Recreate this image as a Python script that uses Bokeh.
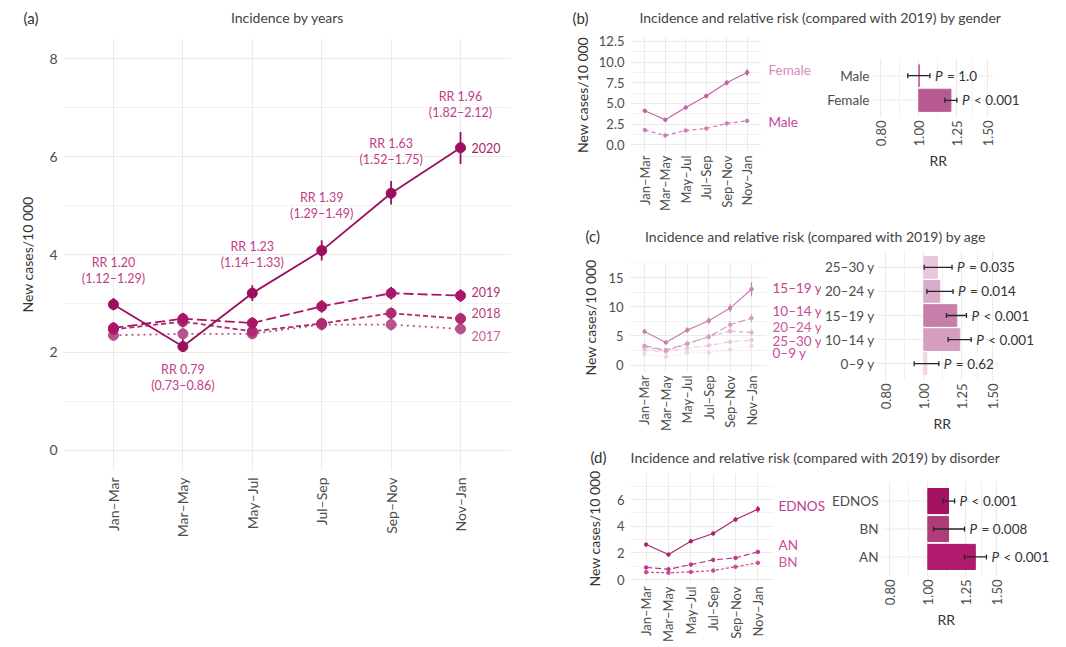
import math
from bokeh.plotting import figure
from bokeh.models import (ColumnDataSource, FactorRange, Range1d, FixedTicker,
                          PrintfTickFormatter, Title)
from bokeh.layouts import row, column
from bokeh.embed import file_html
from bokeh.resources import INLINE
from bokeh.core.properties import value

FONT = "Lato"
F = value(FONT)
GRID = "#ebebeb"
TICK_C = "#4d4d4d"
AX_C = "#333333"

# ---------------- data ----------------
periods = ["Jan–Mar", "Mar–May", "May–Jul", "Jul–Sep", "Sep–Nov", "Nov–Jan"]

# panel (a): incidence by years
years = ["2017", "2018", "2019", "2020"]
inc_2017 = [2.35, 2.38, 2.38, 2.57, 2.57, 2.48]
lo_2017 = [2.24, 2.27, 2.27, 2.45, 2.45, 2.37]
hi_2017 = [2.47, 2.50, 2.50, 2.69, 2.69, 2.60]
inc_2018 = [2.47, 2.63, 2.43, 2.59, 2.80, 2.69]
lo_2018 = [2.36, 2.51, 2.32, 2.47, 2.68, 2.57]
hi_2018 = [2.59, 2.75, 2.55, 2.71, 2.92, 2.81]
inc_2019 = [2.50, 2.69, 2.60, 2.94, 3.21, 3.16]
lo_2019 = [2.39, 2.57, 2.48, 2.81, 3.08, 3.03]
hi_2019 = [2.62, 2.81, 2.72, 3.07, 3.34, 3.29]
inc_2020 = [2.98, 2.12, 3.21, 4.08, 5.25, 6.18]
lo_2020 = [2.86, 2.03, 3.05, 3.88, 5.02, 5.85]
hi_2020 = [3.11, 2.27, 3.37, 4.29, 5.50, 6.50]
year_label_y = [2.33, 2.80, 3.23, 6.18]
rr_text = ["RR 1.20", "RR 0.79", "RR 1.23", "RR 1.39", "RR 1.63", "RR 1.96"]
rr_ci_text = ["(1.12–1.29)", "(0.73–0.86)", "(1.14–1.33)", "(1.29–1.49)", "(1.52–1.75)", "(1.82–2.12)"]
rr_label_y = [3.84, 1.65, 4.17, 5.17, 6.26, 7.23]

# panel (b): gender
genders = ["Female", "Male"]
inc_female = [4.11, 3.02, 4.51, 5.89, 7.50, 8.74]
lo_female = [3.90, 2.85, 4.30, 5.65, 7.20, 8.35]
hi_female = [4.32, 3.20, 4.72, 6.13, 7.80, 9.13]
inc_male = [1.78, 1.13, 1.73, 1.97, 2.58, 2.90]
lo_male = [1.65, 1.02, 1.60, 1.83, 2.42, 2.70]
hi_male = [1.91, 1.24, 1.86, 2.11, 2.74, 3.10]
gender_label_y = [9.03, 2.70]
rr_gender = [1.207, 1.003]
rr_gender_lo = [1.165, 0.937]
rr_gender_hi = [1.250, 1.067]
p_gender = ["< 0.001", "= 1.0"]

# panel (c): age
ages = ["0–9 y", "10–14 y", "15–19 y", "20–24 y", "25–30 y"]
inc_0_9 = [1.88, 1.42, 2.16, 2.16, 2.67, 3.30]
err_0_9 = [0.20, 0.20, 0.20, 0.20, 0.25, 0.30]
inc_10_14 = [3.30, 2.57, 3.70, 4.85, 6.90, 8.05]
err_10_14 = [0.35, 0.30, 0.35, 0.45, 0.55, 0.70]
inc_15_19 = [5.75, 3.87, 5.99, 7.59, 9.76, 13.0]
err_15_19 = [0.45, 0.35, 0.45, 0.50, 0.65, 1.20]
inc_20_24 = [3.13, 2.45, 3.60, 4.85, 5.82, 5.58]
err_20_24 = [0.35, 0.30, 0.35, 0.45, 0.50, 0.50]
inc_25_30 = [2.62, 2.28, 2.91, 3.36, 3.99, 4.28]
err_25_30 = [0.30, 0.30, 0.30, 0.35, 0.40, 0.40]
age_label_y = [2.05, 9.30, 13.2, 6.60, 4.16]
rr_age = [1.018, 1.234, 1.213, 1.098, 1.083]
rr_age_lo = [0.945, 1.153, 1.142, 1.018, 1.002]
rr_age_hi = [1.092, 1.320, 1.284, 1.187, 1.180]
p_age = ["= 0.62", "< 0.001", "< 0.001", "= 0.014", "= 0.035"]

# panel (d): disorder
disorders = ["AN", "BN", "EDNOS"]
inc_an = [0.90, 0.77, 1.12, 1.47, 1.62, 2.07]
err_an = [0.08, 0.07, 0.09, 0.10, 0.10, 0.14]
inc_bn = [0.55, 0.50, 0.57, 0.67, 0.95, 1.25]
err_bn = [0.06, 0.05, 0.06, 0.06, 0.08, 0.10]
inc_ednos = [2.62, 1.87, 2.87, 3.45, 4.50, 5.27]
err_ednos = [0.12, 0.10, 0.12, 0.14, 0.16, 0.25]
disorder_label_y = [2.57, 1.28, 5.50]
rr_dis = [1.321, 1.129, 1.129]
rr_dis_lo = [1.240, 1.034, 1.092]
rr_dis_hi = [1.410, 1.240, 1.170]
p_dis = ["< 0.001", "= 0.008", "< 0.001"]

# RR axis
RR_LO, RR_HI = 0.762, 1.545
RR_PX_PER_LN = 170.5

# ---------------- helpers ----------------
def base_style(p):
    p.outline_line_color = None
    p.background_fill_color = "white"
    p.border_fill_color = "white"
    for ax in p.axis:
        ax.axis_line_color = None
        ax.major_tick_line_color = None
        ax.minor_tick_line_color = None
        ax.major_tick_out = 0
        ax.major_tick_in = 0
        ax.minor_tick_out = 0
        ax.minor_tick_in = 0
        ax.major_label_text_font = FONT
        ax.major_label_text_font_size = "13px"
        ax.major_label_text_color = TICK_C
        ax.axis_label_text_font = FONT
        ax.axis_label_text_font_size = "14px"
        ax.axis_label_text_font_style = "normal"
        ax.axis_label_text_color = AX_C
    for g in p.grid:
        g.grid_line_color = GRID
        g.grid_line_width = 1.1


def title_fig(x0, w, h, tag, tag_x, title, title_x, ty):
    p = figure(width=w, height=h, x_range=Range1d(x0, x0 + w), y_range=Range1d(0, h),
               x_axis_location=None, y_axis_location=None, toolbar_location=None,
               output_backend="svg", min_border=0, title=None)
    p.outline_line_color = None
    p.grid.grid_line_color = None
    p.text(x=[tag_x], y=[ty], text=[tag], text_font=F, text_font_size="15px",
           text_baseline="middle", text_align="left", text_color="#333333")
    p.text(x=[title_x], y=[ty], text=[title], text_font=F, text_font_size="14px",
           text_baseline="middle", text_align="center", text_color="#444444")
    return p


def line_fig(fw, fh, y0, y1, ticks, minor, bl, bt, br, bb, fmt, ylab_standoff, pad=0.2, xstand=3):
    p = figure(x_range=FactorRange(factors=periods, range_padding=pad, range_padding_units="absolute"),
               y_range=Range1d(y0, y1), frame_width=fw, frame_height=fh,
               min_border_left=bl, min_border_top=bt, min_border_right=br, min_border_bottom=bb,
               toolbar_location=None, output_backend="svg", title=None)
    p.yaxis.ticker = FixedTicker(ticks=ticks, minor_ticks=minor)
    p.yaxis.formatter = PrintfTickFormatter(format=fmt)
    p.yaxis.axis_label = "New cases/10 000"
    p.xaxis.major_label_orientation = math.pi / 2
    base_style(p)
    p.ygrid.minor_grid_line_color = GRID
    p.ygrid.minor_grid_line_width = 0.7
    p.yaxis.axis_label_standoff = ylab_standoff
    p.xaxis.major_label_standoff = xstand
    p.yaxis.major_label_standoff = 6
    return p


def add_series(p, y, lo, hi, color, dash, lw=1.2, msize=3.5):
    src = ColumnDataSource(dict(x=periods, y=y, lo=lo, hi=hi))
    p.line("x", "y", source=src, line_color=color, line_width=lw, line_dash=dash)
    p.segment(x0="x", y0="lo", x1="x", y1="hi", source=src, line_color=color, line_width=lw)
    p.scatter("x", "y", source=src, size=msize, color=color)


def label_fig(y_range, w, bt, fh, bb, names, ys, colors, xoff):
    p = figure(x_range=Range1d(0, w), y_range=y_range, frame_width=w, frame_height=fh,
               min_border_left=0, min_border_right=0, min_border_top=bt, min_border_bottom=bb,
               x_axis_location=None, y_axis_location=None, toolbar_location=None,
               output_backend="svg", title=None)
    p.outline_line_color = None
    p.grid.grid_line_color = None
    src = ColumnDataSource(dict(y=ys, t=names, c=colors))
    p.text(x=0, y="y", text="t", source=src, x_offset=xoff, text_color="c",
           text_font=F, text_font_size="13.5px", text_baseline="middle", text_align="left")
    return p


def bar_fig(cats, rr, lo, hi, ptxt, colors, fw, fh, bl, bt, br, bb, rr_offset):
    x_end = RR_LO * math.exp(fw / RR_PX_PER_LN)
    p = figure(y_range=FactorRange(factors=cats, range_padding=0.2, range_padding_units="absolute"),
               x_range=Range1d(RR_LO, x_end), x_axis_type="log",
               frame_width=fw, frame_height=fh,
               min_border_left=bl, min_border_top=bt, min_border_right=br, min_border_bottom=bb,
               toolbar_location=None, output_backend="svg", title=None)
    p.xaxis.ticker = FixedTicker(ticks=[0.8, 1.0, 1.25, 1.5], minor_ticks=[0.894, 1.118, 1.369])
    p.xaxis.formatter = PrintfTickFormatter(format="%.2f")
    p.xaxis.major_label_orientation = math.pi / 2
    base_style(p)
    p.yaxis.major_label_text_font_size = "13.5px"
    p.ygrid.grid_line_color = None
    p.xgrid.minor_grid_line_color = GRID
    p.xgrid.minor_grid_line_width = 0.7
    p.xaxis.major_label_standoff = 3
    p.yaxis.major_label_standoff = 3
    # axis title "RR" centred under the RR scale (not under the wider frame)
    p.add_layout(Title(text="RR", align="left", offset=rr_offset, text_font=FONT,
                       text_font_size="14px", text_font_style="normal",
                       text_color=AX_C, standoff=0), "below")
    src = ColumnDataSource(dict(cat=cats, rr=rr, lo=lo, hi=hi, p=ptxt, c=colors))
    # horizontal grid lines at the categories, limited to the RR panel width
    p.segment(x0=RR_LO, y0="cat", x1=RR_HI, y1="cat", source=src, line_color=GRID, line_width=1.1)
    p.hbar(y="cat", left=1.0, right="rr", height=0.9, source=src,
           fill_color="c", line_color="c", line_width=1)
    p.segment(x0="lo", y0="cat", x1="hi", y1="cat", source=src, line_color="#262626", line_width=1.3)
    for end in ("lo", "hi"):
        p.scatter(x=end, y="cat", source=src, marker="dash", size=5, angle=math.pi / 2,
                  line_color="#262626", line_width=1.3)
    p.text(x="hi", y="cat", text=value("P"), source=src, x_offset=5,
           text_font=F, text_font_style="italic", text_font_size="13.5px",
           text_baseline="middle", text_color="#333333")
    p.text(x="hi", y="cat", text="p", source=src, x_offset=17,
           text_font=F, text_font_size="13.5px",
           text_baseline="middle", text_color="#333333")
    return p


def box(f):
    return column(f)

# ---------------- panel (a) ----------------
title_a = title_fig(0, 562, 30, "(a)", 23, "Incidence by years", 287, 13)
pa = figure(x_range=FactorRange(factors=periods, range_padding=0.22, range_padding_units="absolute"),
            y_range=Range1d(-0.41, 8.41), frame_width=447, frame_height=432,
            min_border_left=63, min_border_top=8, min_border_right=52, min_border_bottom=100,
            toolbar_location=None, output_backend="svg", title=None)
pa.yaxis.ticker = FixedTicker(ticks=[0, 2, 4, 6, 8], minor_ticks=[1, 3, 5, 7])
pa.yaxis.axis_label = "New cases/10 000"
pa.xaxis.major_label_orientation = math.pi / 2
base_style(pa)
pa.xaxis.major_label_text_font_size = "14px"
pa.yaxis.major_label_text_font_size = "14px"
pa.ygrid.minor_grid_line_color = GRID
pa.ygrid.minor_grid_line_width = 0.7
pa.yaxis.axis_label_standoff = 10
pa.xaxis.major_label_standoff = 7
pa.yaxis.major_label_standoff = 6

year_series = [
    (inc_2017, lo_2017, hi_2017, "#b8528b", "2 4"),
    (inc_2018, lo_2018, hi_2018, "#ae2b71", "5 3"),
    (inc_2019, lo_2019, hi_2019, "#aa1567", "10 4"),
    (inc_2020, lo_2020, hi_2020, "#9c0f5f", "solid"),
]
for y, lo, hi, col, dash in year_series:
    add_series(pa, y, lo, hi, col, dash, lw=1.8, msize=10)

ylab_src = ColumnDataSource(dict(x=[periods[-1]] * 4, y=year_label_y, t=years,
                                 c=["#c0649a", "#b83f80", "#b22e76", "#a81c69"]))
pa.text(x="x", y="y", text="t", source=ylab_src, x_offset=11, text_color="c",
        text_font=F, text_font_size="12.5px", text_baseline="middle", text_align="left")
rr_src = ColumnDataSource(dict(x=periods, y=rr_label_y, t1=rr_text, t2=rr_ci_text))
pa.text(x="x", y="y", text="t1", source=rr_src, text_color="#c13d8a", text_font=F,
        text_font_size="12.5px", text_baseline="middle", text_align="center")
pa.text(x="x", y="y", text="t2", source=rr_src, y_offset=16, text_color="#c13d8a", text_font=F,
        text_font_size="12.5px", text_baseline="middle", text_align="center")

left = column(box(title_a), box(pa))

# ---------------- panel (b) ----------------
title_b = title_fig(562, 504, 30, "(b)", 572,
                    "Incidence and relative risk (compared with 2019) by gender", 820, 13)
pb = line_fig(131, 115, -0.93, 12.97, [0, 2.5, 5, 7.5, 10, 12.5], [1.25, 3.75, 6.25, 8.75, 11.25],
              68, 7, 1, 73, "%.1f", 5)
add_series(pb, inc_female, lo_female, hi_female, "#c462a2", "solid")
add_series(pb, inc_male, lo_male, hi_male, "#d17cb6", "4 3")
lb = label_fig(pb.y_range, 53, 7, 115, 73, genders, gender_label_y, ["#d68bc0", "#c2449a"], 6)
pb_bar = bar_fig(genders, rr_gender, rr_gender_lo, rr_gender_hi, p_gender,
                 ["#b75a8f", "#c0609a"], 191, 59, 57, 28, 3, 108, 57)

# ---------------- panel (c) ----------------
title_c = title_fig(562, 504, 22, "(c)", 585,
                    "Incidence and relative risk (compared with 2019) by age", 815, 11.5)
pc = line_fig(137, 110, -1.27, 17.57, [0, 5, 10, 15], [2.5, 7.5, 12.5, 17.5],
              67, 15, 1, 74, "%d", 6)
age_series = [
    (inc_0_9, err_0_9, "#f0d3e4", "1 3"),
    (inc_25_30, err_25_30, "#eac5dd", "5 2 1 2"),
    (inc_20_24, err_20_24, "#e2b0d1", "4 3"),
    (inc_10_14, err_10_14, "#d99cc4", "7 3"),
    (inc_15_19, err_15_19, "#cc7fb1", "solid"),
]
for y, e, col, dash in age_series:
    add_series(pc, y, [a - b for a, b in zip(y, e)], [a + b for a, b in zip(y, e)], col, dash)
lc = label_fig(pc.y_range, 54, 15, 110, 74, ages, age_label_y,
               ["#c7479a", "#c84a99", "#c4418f", "#cc5aa0", "#c9509c"], 5)
pc_bar = bar_fig(ages, rr_age, rr_age_lo, rr_age_hi, p_age,
                 ["#eed4e4", "#d59ebf", "#c87ea9", "#daaacb", "#e9c6dc"], 190, 130, 52, 3, 3, 66, 56)

# ---------------- panel (d) ----------------
title_d = title_fig(562, 504, 22, "(d)", 590,
                    "Incidence and relative risk (compared with 2019) by disorder", 815, 11.3)
pd_ = line_fig(143, 110, -0.3, 7.95, [0, 2, 4, 6], [1, 3, 5, 7],
               68, 5, 1, 62, "%d", 11)
dis_series = [
    (inc_bn, err_bn, "#c84b98", "3 2"),
    (inc_an, err_an, "#c0368a", "6 3"),
    (inc_ednos, err_ednos, "#b0206f", "solid"),
]
for y, e, col, dash in dis_series:
    add_series(pd_, y, [a - b for a, b in zip(y, e)], [a + b for a, b in zip(y, e)], col, dash)
ld = label_fig(pd_.y_range, 54, 5, 110, 62, disorders, disorder_label_y,
               ["#c84a98", "#cc5aa2", "#c23d90"], 4)
pd_bar = bar_fig(disorders, rr_dis, rr_dis_lo, rr_dis_hi, p_dis,
                 ["#b01b6d", "#ad3d79", "#a2125e"], 183, 95, 52, 13, 3, 69, 56)

right = column(
    box(title_b), row(box(pb), box(lb), box(pb_bar)),
    box(title_c), row(box(pc), box(lc), box(pc_bar)),
    box(title_d), row(box(pd_), box(ld), box(pd_bar)),
)
layout = row(left, right)

open("out.html", "w").write(file_html(layout, INLINE))
